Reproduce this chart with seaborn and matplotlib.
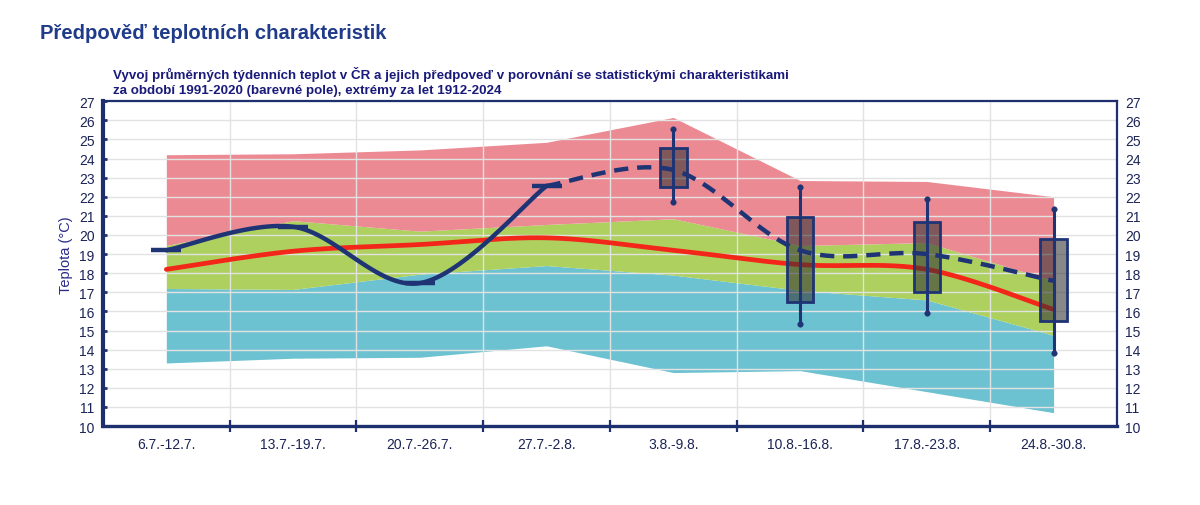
import numpy as np
import pandas as pd
import matplotlib
matplotlib.use("Agg")
import matplotlib.pyplot as plt
import seaborn as sns

# ---------------- data ----------------
weeks = ["6.7.-12.7.", "13.7.-19.7.", "20.7.-26.7.", "27.7.-2.8.",
         "3.8.-9.8.", "10.8.-16.8.", "17.8.-23.8.", "24.8.-30.8."]
ext_min = [13.3, 13.55, 13.6, 14.2, 12.8, 12.9, 11.8, 10.7]
p_low = [17.2, 17.15, 17.95, 18.4, 17.9, 17.1, 16.6, 14.75]
p_high = [19.45, 20.75, 20.2, 20.55, 20.85, 19.45, 19.6, 17.6]
ext_max = [24.2, 24.25, 24.45, 24.85, 26.15, 22.85, 22.8, 22.0]
normal = [18.2, 19.15, 19.5, 19.85, 19.2, 18.45, 18.2, 16.1]

observed_idx = [0, 1, 2, 3]
observed = [19.2, 20.43, 17.48, 22.57]
forecast_idx = [3, 4, 5, 6, 7]
forecast = [22.57, 23.4, 19.2, 19.0, 17.6]

box_idx = [4, 5, 6, 7]
box_q1 = [22.5, 16.5, 17.0, 15.5]
box_q3 = [24.55, 20.95, 20.7, 19.8]
box_lo = [21.7, 15.35, 15.9, 13.8]
box_hi = [25.55, 22.5, 21.9, 21.35]

title = "Předpověď teplotních charakteristik"
subtitle1 = "Vyvoj průměrných týdenních teplot v ČR a jejich předpoveď v porovnání se statistickými charakteristikami"
subtitle2 = "za období 1991-2020 (barevné pole), extrémy za let 1912-2024"
ylabel = "Teplota (°C)"

# ---------------- style ----------------
sns.set_theme(style="white")
plt.rcParams['font.family'] = ['Liberation Sans', 'DejaVu Sans']

NAVY = "#1e2f6e"
BLUE = "#1f3474"
RED_BAND = "#ec8a93"
GREEN_BAND = "#add05e"
CYAN_BAND = "#6cc2d1"
RED_LINE = "#f3261a"
TXT = "#1b2456"


def smooth(xs, ys, n=40):
    """Excel-like smoothed line (Bezier through points)."""
    P = np.column_stack([np.asarray(xs, float), np.asarray(ys, float)])
    out = []
    m = len(P)
    for i in range(m - 1):
        p0 = P[i - 1] if i > 0 else P[i]
        p1 = P[i]
        p2 = P[i + 1]
        p3 = P[i + 2] if i + 2 < m else P[i + 1]
        c1 = p1 + (p2 - p0) / 6.0
        c2 = p2 - (p3 - p1) / 6.0
        t = np.linspace(0, 1, n)[:, None]
        seg = ((1 - t) ** 3) * p1 + 3 * ((1 - t) ** 2) * t * c1 + 3 * (1 - t) * t ** 2 * c2 + t ** 3 * p2
        if i > 0:
            seg = seg[1:]
        out.append(seg)
    return np.vstack(out)


fig = plt.figure(figsize=(12, 5.06), dpi=100)
ax = fig.add_axes([0.0858, 0.156, 0.8450, 0.642])

x = np.arange(len(weeks))

# bands
ax.fill_between(x, ext_min, p_low, color=CYAN_BAND, lw=0, zorder=1)
ax.fill_between(x, p_low, p_high, color=GREEN_BAND, lw=0, zorder=1)
ax.fill_between(x, p_high, ext_max, color=RED_BAND, lw=0, zorder=1)

# normal (red) line
s = smooth(x, normal)
sns.lineplot(x=s[:, 0], y=s[:, 1], sort=False, color=RED_LINE, lw=3.4, ax=ax, zorder=3)

# boxes
bw = 0.21
bx = np.array(box_idx, float)
ax.bar(bx, np.array(box_q3) - np.array(box_q1), bottom=box_q1, width=bw,
       color=(0.2, 0.2, 0.2, 0.58), edgecolor=BLUE, linewidth=2, zorder=4)

# observed (solid) line
s = smooth(observed_idx, observed)
sns.lineplot(x=s[:, 0], y=s[:, 1], sort=False, color=BLUE, lw=3.2, ax=ax, zorder=5)
ax.plot(observed_idx, observed, ls="none", marker="_", ms=21, mew=3.2, color=BLUE, zorder=5)

# forecast (dashed) line
s = smooth(forecast_idx, forecast)
sns.lineplot(x=s[:, 0], y=s[:, 1], sort=False, color=BLUE, lw=3.2, ax=ax, zorder=5,
             dashes=False)
ax.lines[-1].set_dashes([3.2, 2.0])

# whiskers
for xi, lo, hi in zip(box_idx, box_lo, box_hi):
    ax.plot([xi, xi], [lo, hi], color=BLUE, lw=2.2, zorder=6, solid_capstyle="butt")
wdf = pd.DataFrame({"x": list(box_idx) * 2, "y": box_lo + box_hi})
sns.scatterplot(data=wdf, x="x", y="y", color=BLUE, s=16, edgecolor=BLUE, ax=ax, zorder=7)

# axes
ax.set_xlim(-0.5, len(weeks) - 0.5)
ax.set_ylim(10, 27)
ax.set_yticks(range(10, 28))
ax.set_xticks(x)
ax.set_xticklabels(weeks)
ax.set_xticks(np.arange(0.5, len(weeks) - 0.5, 1.0), minor=True)
ax.set_axisbelow("line")
ax.grid(True, which="major", axis="y", color="#e2e2e2", lw=1.0)
ax.grid(True, which="minor", axis="x", color="#e2e2e2", lw=1.0)
ax.grid(False, which="major", axis="x")
ax.set_xlabel("")
ax.set_ylabel(ylabel, fontsize=10.5, color="#2a2a8a")
ax.yaxis.set_label_coords(-0.030, 0.528)

ax.tick_params(axis="x", which="major", length=0, pad=8, labelsize=10, labelcolor=TXT)
ax.tick_params(axis="x", which="minor", direction="inout", length=9, width=1.6, color=NAVY, bottom=True)
ax.tick_params(axis="y", which="major", left=True, right=False, labelleft=True, labelright=True,
               direction="in", length=3, width=2, color=NAVY, labelsize=10, labelcolor=TXT, pad=6)

for side, lw in [("left", 3.0), ("bottom", 2.4), ("top", 1.6), ("right", 1.6)]:
    ax.spines[side].set_visible(True)
    ax.spines[side].set_color(NAVY)
    ax.spines[side].set_linewidth(lw)

fig.text(0.033, 0.934, title, fontsize=14.6, fontweight="bold", color="#1f3b8a", va="center", ha="left")
fig.text(0.094, 0.853, subtitle1, fontsize=9.6, fontweight="bold", color="#1a1a7a", va="center", ha="left")
fig.text(0.094, 0.821, subtitle2, fontsize=9.6, fontweight="bold", color="#1a1a7a", va="center", ha="left")

fig.savefig("out.png", dpi=100)
